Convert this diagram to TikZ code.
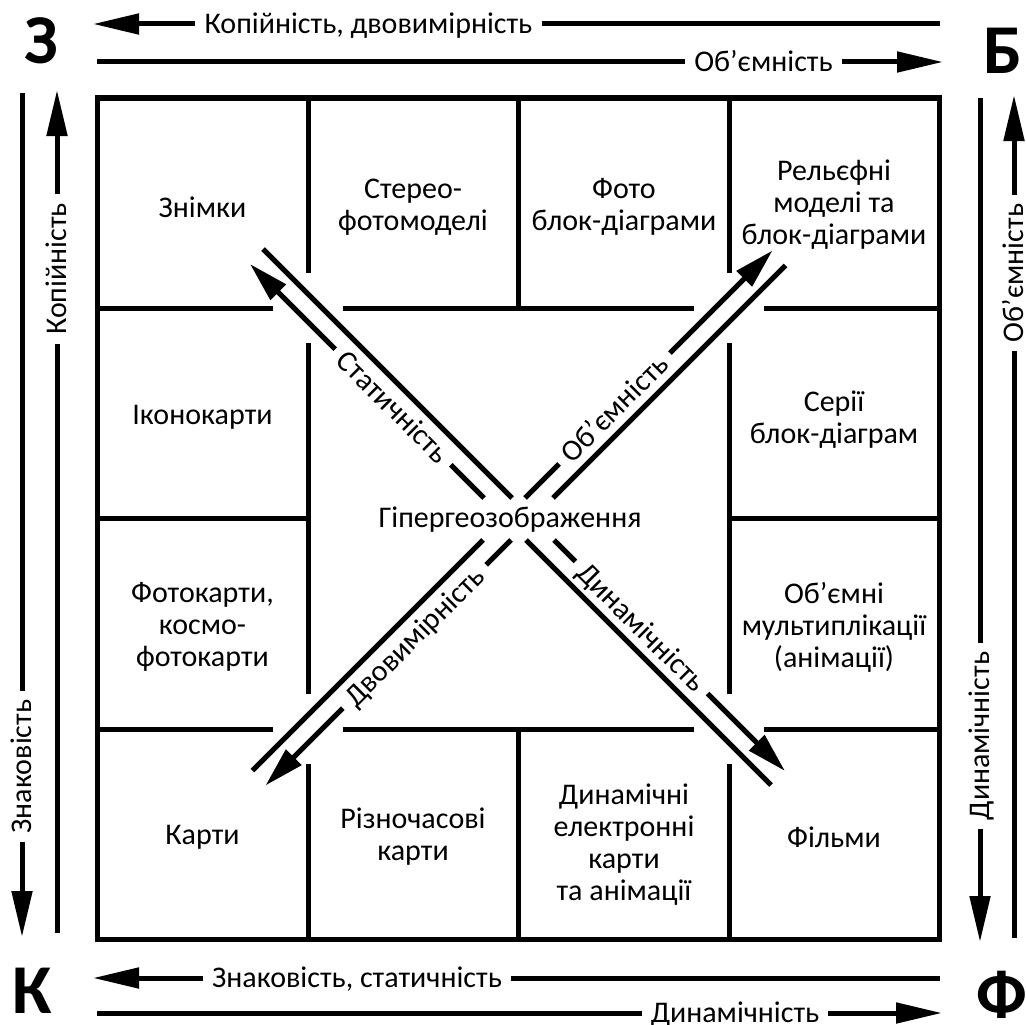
\documentclass[tikz,border=0pt]{standalone}
\usepackage{fontspec}
\setmainfont{Carlito}
\usetikzlibrary{arrows.meta}
\newcommand\labfont{\fontsize{30}{32}\selectfont}
\newcommand\bigfont{\fontsize{70}{80}\selectfont\bfseries}
\tikzset{
  ln/.style={line width=5pt},
  frame/.style={line width=5.5pt},
  arr/.style={ln,-{Triangle[length=46pt,width=20pt]}},
  darr/.style={ln,-{Triangle[length=40pt,width=21pt]}},
  lab/.style={font=\labfont,inner ysep=0pt,inner xsep=9pt,text height=19.3pt,text depth=0pt},
  cell/.style={font=\labfont,align=center,inner sep=0pt},
  big/.style={font=\bigfont,inner sep=0pt,text height=45pt,text depth=0pt}
}
\begin{document}
\begin{tikzpicture}[x=1pt,y=-1pt]
\useasboundingbox (0,0) rectangle (1026,1025);
% frame and grid
\draw[frame] (97.5,98) rectangle (939.5,939.5);
\draw[ln] (308,98) -- (308,273) (308,343) -- (308,694) (308,764) -- (308,939.5);
\draw[ln] (518.5,98) -- (518.5,308) (518.5,729) -- (518.5,939.5);
\draw[ln] (729,98) -- (729,273) (729,343) -- (729,694) (729,764) -- (729,939.5);
\draw[ln] (97.5,308) -- (273,308) (343,308) -- (694,308) (764,308) -- (939.5,308);
\draw[ln] (97.5,518.5) -- (308,518.5) (729,518.5) -- (939.5,518.5);
\draw[ln] (97.5,729) -- (273,729) (343,729) -- (694,729) (764,729) -- (939.5,729);
% cell texts
\node[cell] (c11) at (202.5,207) {Знімки};
\node[cell] (c12) at (413,207) {Стерео-\\фотомоделі};
\node[cell] (c13) at (624,207) {Фото\\блок-діаграми};
\node[cell] (c14) at (834,205) {Рельєфні\\моделі та\\блок-діаграми};
\node[cell] (c21) at (202.5,417) {Іконокарти};
\node[cell] (c24) at (834,420) {Серії\\блок-діаграм};
\node[cell] (c31) at (202.5,627) {Фотокарти,\\космо-\\фотокарти};
\node[cell] (c34) at (834,627) {Об’ємні\\мультиплікації\\(анімації)};
\node[cell] (c41) at (202.5,837) {Карти};
\node[cell] (c42) at (413,837) {Різночасові\\карти};
\node[cell] (c43) at (624,845) {Динамічні\\електронні\\карти\\та анімації};
\node[cell] (c44) at (834,837) {Фільми};
\node[cell] (hyper) at (510,520) {Гіпергеозображення};
% diagonal end points
\coordinate (nwA) at (263,249);  \coordinate (nwAc) at (512,498);
\coordinate (nwT) at (250,264);  \coordinate (nwBc) at (484,498);
\coordinate (neT) at (772.5,250.5); \coordinate (neAc) at (525,498);
\coordinate (neB) at (785.5,265.5); \coordinate (neBc) at (553,498);
\coordinate (seA) at (771,785);  \coordinate (seAc) at (526,540);
\coordinate (seT) at (785,771);  \coordinate (seBc) at (554,540);
\coordinate (swA) at (252.5,770.5); \coordinate (swAc) at (483,540);
\coordinate (swT) at (265.5,785.5); \coordinate (swBc) at (511,540);
% diagonals
\draw[ln] (nwA) -- (nwAc);
\node[lab,rotate=-45] (stat) at (393,407) {Статичність};
\draw[darr] (stat.west) -- (nwT);
\draw[ln] (stat.east) -- (nwBc);
\node[lab,rotate=45] (obd) at (614.5,408.5) {Об’ємність};
\draw[ln] (obd.west) -- (neAc);
\draw[darr] (obd.east) -- (neT);
\draw[ln] (neB) -- (neBc);
\draw[ln] (seAc) -- (seA);
\node[lab,rotate=-45] (dyn) at (641.5,627.5) {Динамічність};
\draw[ln] (dyn.west) -- (seBc);
\draw[darr] (dyn.east) -- (seT);
\draw[ln] (swAc) -- (swA);
\node[lab,rotate=45] (dvo) at (414.5,636.5) {Двовимірність};
\draw[ln] (dvo.east) -- (swBc);
\draw[darr] (dvo.west) -- (swT);
% outer end points
\coordinate (t1L) at (93,24);   \coordinate (t1R) at (940,24);
\coordinate (t2L) at (97,62);   \coordinate (t2R) at (943,62);
\coordinate (b1L) at (93,978);  \coordinate (b1R) at (940,978);
\coordinate (b2L) at (97,1013); \coordinate (b2R) at (942,1013);
\coordinate (l1T) at (22,93);   \coordinate (l1B) at (22,937);
\coordinate (l2T) at (57,90);   \coordinate (l2B) at (57,933);
\coordinate (r1T) at (1014,95); \coordinate (r1B) at (1014,938);
\coordinate (r2T) at (980,98);  \coordinate (r2B) at (980,942);
% top
\node[lab] (t1) at (368.5,24) {Копійність, двовимірність};
\draw[arr] (t1.west) -- (t1L);
\draw[ln] (t1.east) -- (t1R);
\node[lab] (t2) at (763.5,62) {Об’ємність};
\draw[ln] (t2.west) -- (t2L);
\draw[arr] (t2.east) -- (t2R);
% bottom
\node[lab] (b1) at (357,978) {Знаковість, статичність};
\draw[arr] (b1.west) -- (b1L);
\draw[ln] (b1.east) -- (b1R);
\node[lab] (b2) at (735,1013) {Динамічність};
\draw[ln] (b2.west) -- (b2L);
\draw[arr] (b2.east) -- (b2R);
% left
\node[lab,rotate=90] (l1) at (22,766.5) {Знаковість};
\draw[ln] (l1.east) -- (l1T);
\draw[arr] (l1.west) -- (l1B);
\node[lab,rotate=90] (l2) at (57,269) {Копійність};
\draw[arr] (l2.east) -- (l2T);
\draw[ln] (l2.west) -- (l2B);
% right
\node[lab,rotate=90] (r1) at (1014,273) {Об’ємність};
\draw[arr] (r1.east) -- (r1T);
\draw[ln] (r1.west) -- (r1B);
\node[lab,rotate=90] (r2) at (980,736) {Динамічність};
\draw[ln] (r2.east) -- (r2T);
\draw[arr] (r2.west) -- (r2B);
% corner letters
\node[big] (kz) at (41,41) {З};
\node[big] (kb) at (1003,51) {Б};
\node[big] (kk) at (32,991) {К};
\node[big] (kf) at (1002,996) {Ф};
\end{tikzpicture}
\end{document}
